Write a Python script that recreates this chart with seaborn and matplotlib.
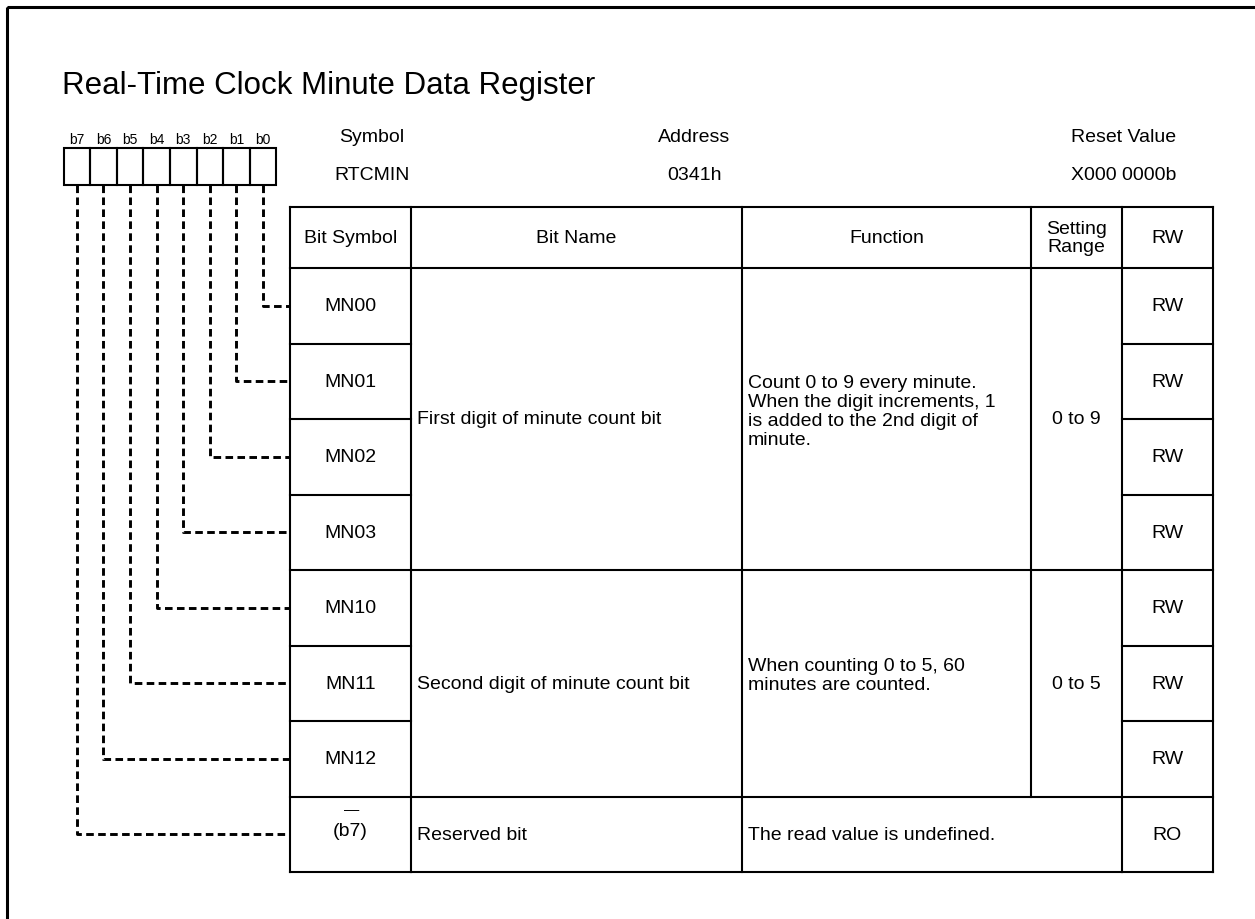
import matplotlib
matplotlib.use("Agg")
import matplotlib.pyplot as plt
import seaborn as sns

# register description
title = "Real-Time Clock Minute Data Register"
bit_labels = ["b7", "b6", "b5", "b4", "b3", "b2", "b1", "b0"]
header_info = [("Symbol", "RTCMIN"), ("Address", "0341h"), ("Reset Value", "X000 0000b")]

col_headers = ["Bit Symbol", "Bit Name", "Function", "Setting\nRange", "RW"]
bit_symbols = ["MN00", "MN01", "MN02", "MN03", "MN10", "MN11", "MN12", "(b7)"]
rw_values = ["RW", "RW", "RW", "RW", "RW", "RW", "RW", "RO"]

# merged groups: (first row, last row, bit name, function, setting range)
groups = [
    (0, 3, "First digit of minute count bit",
     "Count 0 to 9 every minute.\nWhen the digit increments, 1\nis added to the 2nd digit of\nminute.",
     "0 to 9"),
    (4, 6, "Second digit of minute count bit",
     "When counting 0 to 5, 60\nminutes are counted.", "0 to 5"),
    (7, 7, "Reserved bit", "The read value is undefined.", None),
]

sns.set_theme(style="white")
plt.rcParams["font.family"] = ["Liberation Sans", "DejaVu Sans"]
plt.rcParams["text.color"] = "black"

fig = plt.figure(figsize=(12.55, 9.2), dpi=100)
ax = fig.add_axes([0, 0, 1, 1])
ax.set_xlim(0, 1255)
ax.set_ylim(920, 0)
ax.axis("off")

FS = 14
lw_tbl = 1.5

# outer frame (right/bottom edges fall outside the canvas)
ax.add_patch(plt.Rectangle((7, 8), 1270, 930, fill=False, lw=2.2, color="black"))

ax.text(62, 86, title, fontsize=22.5, va="center", ha="left")

# bit boxes
box_x0, box_w, box_top, box_bot = 63.5, 26.6, 149, 186
for i, lab in enumerate(bit_labels):
    x = box_x0 + i * box_w
    ax.add_patch(plt.Rectangle((x, box_top), box_w, box_bot - box_top,
                               fill=False, lw=1.5, color="black"))
    ax.text(x + box_w / 2, 140, lab, fontsize=10, ha="center", va="center")

# symbol / address / reset value
head_x = [372, 694, 1124]
for x, (h, v) in zip(head_x, header_info):
    ax.text(x, 138, h, fontsize=FS, ha="center", va="center")
    ax.text(x, 175, v, fontsize=FS, ha="center", va="center")

# table geometry
cols = [290, 411, 742, 1031, 1122, 1213]
head_top, head_bot, row_h = 208, 269, 75.5
n_rows = len(bit_symbols)
row_y = [head_bot + k * row_h for k in range(n_rows + 1)]
tbl_bot = row_y[-1]

def hline(y, x0, x1):
    ax.plot([x0, x1], [y, y], color="black", lw=lw_tbl, solid_capstyle="projecting")

def vline(x, y0, y1):
    ax.plot([x, x], [y0, y1], color="black", lw=lw_tbl, solid_capstyle="projecting")

hline(head_top, cols[0], cols[-1])
hline(head_bot, cols[0], cols[-1])
for c, h in enumerate(col_headers):
    ax.text((cols[c] + cols[c + 1]) / 2, (head_top + head_bot) / 2, h,
            fontsize=FS, ha="center", va="center", linespacing=1.15)

# outer verticals and per-row columns
for x in (cols[0], cols[1], cols[4], cols[5]):
    vline(x, head_top, tbl_bot)
vline(cols[2], head_top, tbl_bot)
vline(cols[3], head_top, row_y[7])
for k in range(1, n_rows + 1):
    hline(row_y[k], cols[0], cols[1])
    hline(row_y[k], cols[4], cols[5])

for k, (sym, rw) in enumerate(zip(bit_symbols, rw_values)):
    yc = (row_y[k] + row_y[k + 1]) / 2
    if sym == "(b7)":
        ax.text((cols[0] + cols[1]) / 2, yc - 4, sym, fontsize=FS, ha="center", va="center")
        ax.text((cols[0] + cols[1]) / 2 + 1, yc - 25, "\u2014", fontsize=11, ha="center", va="center")
    else:
        ax.text((cols[0] + cols[1]) / 2, yc, sym, fontsize=FS, ha="center", va="center")
    ax.text((cols[4] + cols[5]) / 2, yc, rw, fontsize=FS, ha="center", va="center")

for r0, r1, name, func, rng in groups:
    y0, y1 = row_y[r0], row_y[r1 + 1]
    yc = (y0 + y1) / 2
    hline(y1, cols[1], cols[4])
    ax.text(cols[1] + 6, yc, name, fontsize=FS, ha="left", va="center")
    ax.text(cols[2] + 6, yc - 8 if r1 > r0 else yc, func, fontsize=FS,
            ha="left", va="center", linespacing=1.15)
    if rng:
        ax.text((cols[3] + cols[4]) / 2, yc, rng, fontsize=FS, ha="center", va="center")

# dashed connectors from each bit box to its row
for i, lab in enumerate(bit_labels):
    bit = 7 - i
    xc = box_x0 + (i + 0.5) * box_w
    yc = (row_y[bit] + row_y[bit + 1]) / 2
    ax.plot([xc, xc, cols[0]], [box_bot, yc, yc], color="black", lw=2.1,
            dashes=(2.6, 1.5), solid_joinstyle="miter")

fig.savefig("out.png", dpi=100, facecolor="white")
